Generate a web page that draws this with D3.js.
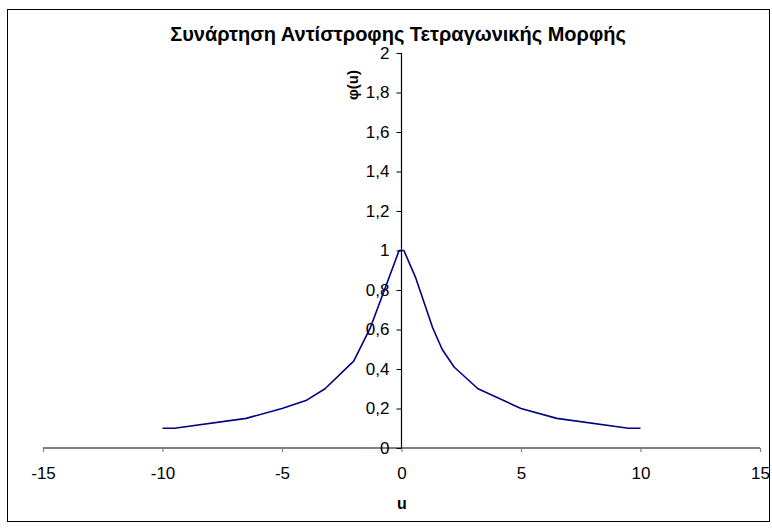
<!DOCTYPE html>
<html>
<head>
<meta charset="utf-8">
<script src="https://cdn.jsdelivr.net/npm/d3@7/dist/d3.min.js"></script>
<style>
  html, body { margin: 0; padding: 0; background: #fff; }
  svg { display: block; font-family: Arial, "Liberation Sans", sans-serif; }
</style>
</head>
<body>
<svg id="chart" width="772" height="529"></svg>
<script>
// Sampled points of the curve
const uValues   = [-10, -9.5, -6.5, -5, -4, -3.2, -2, -1.3, -0.5, -0.1, 0.1, 0.6, 1.3, 1.7, 2.2, 3.2, 5, 6.5, 9.5, 10];
const phiValues = [0.10, 0.10, 0.15, 0.20, 0.24, 0.30, 0.44, 0.61, 0.87, 1.0, 1.0, 0.86, 0.61, 0.50, 0.41, 0.30, 0.20, 0.15, 0.10, 0.10];

const xTicks = [-15, -10, -5, 0, 5, 10, 15];
const yTicks = [0, 0.2, 0.4, 0.6, 0.8, 1, 1.2, 1.4, 1.6, 1.8, 2];

const titleText = "Συνάρτηση Αντίστροφης Τετραγωνικής Μορφής";
const xTitle = "u";
const yTitle = "φ(u)";

const svg = d3.select("#chart");
const FONT = "Arial, 'Liberation Sans', sans-serif";

// Outer chart frame
svg.append("rect")
  .attr("x", 7.5).attr("y", 9.5)
  .attr("width", 762).attr("height", 512)
  .attr("fill", "#fff").attr("stroke", "#000").attr("stroke-width", 1);

const x = d3.scaleLinear().domain([-15, 15]).range([43, 760]);
const y = d3.scaleLinear().domain([0, 2]).range([448, 53]);

const fmt = v => String(v).replace(".", ",");

// Horizontal axis placed at φ = 0
const xAxis = svg.append("g")
  .attr("transform", `translate(0,${y(0)})`)
  .call(d3.axisBottom(x).tickValues(xTicks).tickSize(4).tickPadding(15).tickFormat(d => d));
xAxis.select(".domain").attr("stroke", "#808080").attr("stroke-width", 2)
  .attr("d", `M${x(-15)},0H${x(15)}`);
xAxis.selectAll(".tick line").attr("stroke", "#808080").attr("stroke-width", 1.2);
xAxis.selectAll(".tick text").attr("font-size", 17).attr("fill", "#000")
  .attr("font-family", FONT);

// Vertical axis placed at u = 0
const yAxis = svg.append("g")
  .attr("transform", `translate(${x(0)},0)`)
  .call(d3.axisLeft(y).tickValues(yTicks).tickSize(5).tickPadding(7).tickFormat(fmt));
yAxis.select(".domain").attr("stroke", "#000").attr("stroke-width", 1.2)
  .attr("d", `M0,${y(2)}V${y(0)}`);
yAxis.selectAll(".tick line").attr("stroke", "#000").attr("stroke-width", 1);
yAxis.selectAll(".tick text").attr("font-size", 17).attr("fill", "#000")
  .attr("font-family", FONT);

// Curve
const pts = uValues.map((u, i) => [u, phiValues[i]]);
svg.append("path")
  .datum(pts)
  .attr("fill", "none")
  .attr("stroke", "#000080")
  .attr("stroke-width", 1.6)
  .attr("stroke-linejoin", "round")
  .attr("d", d3.line().x(d => x(d[0])).y(d => y(d[1])));

// Titles
svg.append("text")
  .attr("x", 398).attr("y", 41)
  .attr("text-anchor", "middle")
  .attr("font-size", 20).attr("font-weight", "bold")
  .text(titleText);

svg.append("text")
  .attr("x", 402).attr("y", 509)
  .attr("text-anchor", "middle")
  .attr("font-size", 16).attr("font-weight", "bold")
  .text(xTitle);

svg.append("text")
  .attr("transform", "translate(358,85) rotate(-90)")
  .attr("text-anchor", "middle")
  .attr("font-size", 15).attr("font-weight", "bold")
  .text(yTitle);
</script>
</body>
</html>
